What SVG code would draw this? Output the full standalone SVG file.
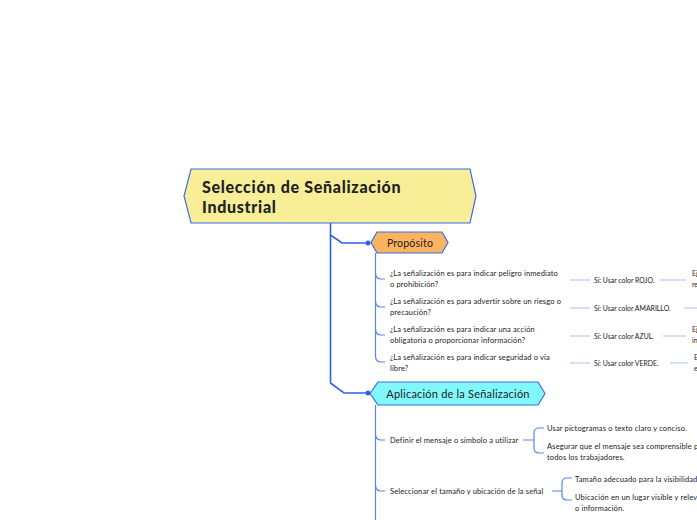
<svg xmlns="http://www.w3.org/2000/svg" width="697" height="520" viewBox="0 0 697 520">
<style>
.t{font-family:Lato,"Liberation Sans",sans-serif;fill:#222}
.s{font-size:7.5px;letter-spacing:0.15px}
.y{font-size:6.9px}
.main{fill:none;stroke:#2e62e8;stroke-width:1.6}
.sub{fill:none;stroke:#5a86ef;stroke-width:1.2}
.lt{fill:none;stroke:#a9c1f3;stroke-width:1.2}
.node{stroke:#3b6ee6;stroke-width:1.2}
</style>
<rect width="697" height="520" fill="#fff"/>
<g id="connectors">
<path class="main" d="M330.5 223 V235 L342 243 H368"/>
<path class="main" d="M330.5 235 V383 L344 393 H368"/>
<circle cx="368" cy="243" r="2.5" fill="#2e62e8"/>
<circle cx="368" cy="393" r="2.5" fill="#2e62e8"/>
<path class="sub" d="M375.5 253 V356"/>
<path class="sub" d="M375.5 273 Q375.5 279 381 279 H385"/>
<path class="sub" d="M375.5 301 Q375.5 307 381 307 H385"/>
<path class="sub" d="M375.5 329 Q375.5 335 381 335 H385"/>
<path class="sub" d="M375.5 356 Q375.5 362 381 362 H385"/>
<path class="lt" d="M570 280 H590 M660 280 H686"/>
<path class="lt" d="M570 308 H590 M684 308 H697"/>
<path class="lt" d="M570 336 H590 M663 336 H686"/>
<path class="lt" d="M570 363 H590 M670 363 H688"/>
<path class="sub" d="M375.5 405 V520"/>
<path class="sub" d="M375.5 434 Q375.5 440 381 440 H385"/>
<path class="sub" d="M375.5 485 Q375.5 491 381 491 H385"/>
<path class="sub" d="M523 440 H534 M534 440 V433 Q534 428 539 428 H544 M534 440 V448 Q534 453 539 453 H544"/>
<path class="sub" d="M552 491 H562 M562 491 V483 Q562 478 567 478 H572 M562 491 V495 Q562 500 567 500 H572"/>
</g>
<g id="root">
<polygon class="node" points="191,169 470,169 476,196 470,223 191,223 184,196" fill="#f9ee98"/>
<text class="t" x="202" y="193" font-size="16" font-weight="900" letter-spacing="0.7">Selección de Señalización</text>
<text class="t" x="202" y="213" font-size="16" font-weight="900" letter-spacing="0.7">Industrial</text>
</g>
<g id="proposito">
<polygon class="node" points="377,232 442,232 448,242.5 442,253 377,253 371,242.5" fill="#fbb35f"/>
<text class="t" x="410" y="246.5" font-size="10.5" letter-spacing="0.2" text-anchor="middle">Propósito</text>
</g>
<g id="q1"><text class="t s" x="390" y="276">¿La señalización es para indicar peligro inmediato</text><text class="t s" x="390" y="287">o prohibición?</text></g>
<g id="q2"><text class="t s" x="390" y="304">¿La señalización es para advertir sobre un riesgo o</text><text class="t s" x="390" y="315">precaución?</text></g>
<g id="q3"><text class="t s" x="390" y="332">¿La señalización es para indicar una acción</text><text class="t s" x="390" y="343">obligatoria o proporcionar información?</text></g>
<g id="q4"><text class="t s" x="390" y="360">¿La señalización es para indicar seguridad o vía</text><text class="t s" x="390" y="371">libre?</text></g>
<g id="a1"><text class="t y" x="594" y="283">Sí: Usar color ROJO.</text></g>
<g id="a2"><text class="t y" x="594" y="311">Sí: Usar color AMARILLO.</text></g>
<g id="a3"><text class="t y" x="594" y="339">Sí: Usar color AZUL.</text></g>
<g id="a4"><text class="t y" x="594" y="366">Sí: Usar color VERDE.</text></g>
<g id="e1"><text class="t y" x="692" y="276">Ejemplo:</text><text class="t y" x="692" y="287">restricción</text></g>
<g id="e3"><text class="t y" x="692" y="332">Ejemplo:</text><text class="t y" x="692" y="343">instrucción</text></g>
<g id="e4"><text class="t y" x="694" y="360">Ejemplo:</text><text class="t y" x="694" y="371">evacuación</text></g>
<g id="aplicacion">
<polygon class="node" points="378,382 538,382 545,393.5 538,405 378,405 370,393.5" fill="#80f8fc"/>
<text class="t" x="458" y="397.5" font-size="11" letter-spacing="0.2" text-anchor="middle">Aplicación de la Señalización</text>
</g>
<g id="definir"><text class="t s" x="390" y="443">Definir el mensaje o símbolo a utilizar</text></g>
<g id="d1"><text class="t s" x="547" y="431">Usar pictogramas o texto claro y conciso.</text></g>
<g id="d2"><text class="t s" x="547" y="449">Asegurar que el mensaje sea comprensible para</text><text class="t s" x="547" y="460">todos los trabajadores.</text></g>
<g id="seleccionar"><text class="t s" x="390" y="494">Seleccionar el tamaño y ubicación de la señal</text></g>
<g id="s1"><text class="t s" x="575" y="482">Tamaño adecuado para la visibilidad</text></g>
<g id="s2"><text class="t s" x="575" y="500">Ubicación en un lugar visible y relevante</text><text class="t s" x="575" y="511">o información.</text></g>
</svg>
